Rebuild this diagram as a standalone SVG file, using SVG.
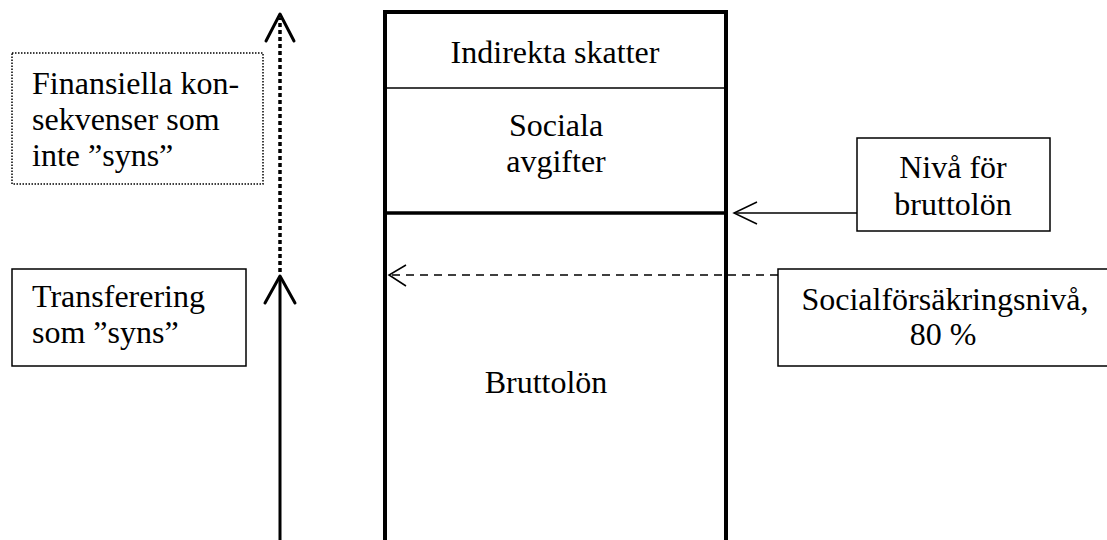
<svg xmlns="http://www.w3.org/2000/svg" width="1107" height="540" viewBox="0 0 1107 540">
  <style>
    text { font-family: "Liberation Serif", "Times New Roman", serif; font-size: 32px; fill: #000; }
    .mid { text-anchor: middle; }
    .box { fill: none; stroke: #000; stroke-width: 1.5; }
    .dotbox { fill: none; stroke: #000; stroke-width: 1.5; stroke-dasharray: 1.5 1.5; }
    .thin { fill: none; stroke: #000; stroke-width: 1.5; }
    .dash { fill: none; stroke: #000; stroke-width: 1.5; stroke-dasharray: 8 6; }
    .bold { fill: none; stroke: #000; stroke-width: 3; }
    .dots { fill: none; stroke: #000; stroke-width: 3.5; stroke-dasharray: 4 3; }
    .col { fill: none; stroke: #000; stroke-width: 4; }
  </style>

  <!-- Stacked column -->
  <g id="column">
    <path class="col" d="M385,540 V12 H726 V540"/>
    <line x1="385" y1="88" x2="726" y2="88" stroke="#000" stroke-width="1.5"/>
    <line x1="385" y1="213" x2="726" y2="213" stroke="#000" stroke-width="3.5"/>
  </g>
  <g id="indirekta">
    <text class="mid" x="555" y="63">Indirekta skatter</text>
  </g>
  <g id="sociala">
    <text class="mid" x="556" y="136">Sociala</text>
    <text class="mid" x="556" y="172">avgifter</text>
  </g>
  <g id="bruttolon">
    <text class="mid" x="546" y="393">Bruttolön</text>
  </g>

  <!-- Left labels -->
  <g id="finansiella">
    <rect class="dotbox" x="12" y="53" width="251" height="131"/>
    <text x="32" y="94">Finansiella kon-</text>
    <text x="32" y="130">sekvenser som</text>
    <text x="32" y="166">inte ”syns”</text>
  </g>
  <g id="transferering">
    <rect class="box" x="12" y="269" width="234" height="97"/>
    <text x="32" y="307">Transferering</text>
    <text x="32" y="343">som ”syns”</text>
  </g>

  <!-- Right labels -->
  <g id="niva">
    <rect class="box" x="857" y="138" width="193" height="93"/>
    <text class="mid" x="953" y="178">Nivå för</text>
    <text class="mid" x="953" y="215">bruttolön</text>
  </g>
  <g id="socialforsakring">
    <path class="box" d="M1110,269 H778 V366 H1110"/>
    <text class="mid" x="945" y="310">Socialförsäkringsnivå,</text>
    <text class="mid" x="943" y="345">80 %</text>
  </g>

  <!-- Connectors -->
  <g id="connectors">
    <line class="bold" x1="280" y1="540" x2="280" y2="277"/>
    <polyline class="bold" points="265,303 280,276 295,303" stroke-linejoin="round" stroke-linecap="round"/>
    <line class="dots" x1="280" y1="272" x2="280" y2="18"/>
    <polyline class="bold" points="266,41 280,14 294,41" stroke-linejoin="round" stroke-linecap="round"/>
    <line class="thin" x1="857" y1="213" x2="734" y2="213"/>
    <polyline class="thin" points="757,202 734,213 757,224"/>
    <line class="dash" x1="778" y1="275" x2="390" y2="275"/>
    <polyline class="thin" points="406,265 389,275 406,286"/>
  </g>
</svg>
